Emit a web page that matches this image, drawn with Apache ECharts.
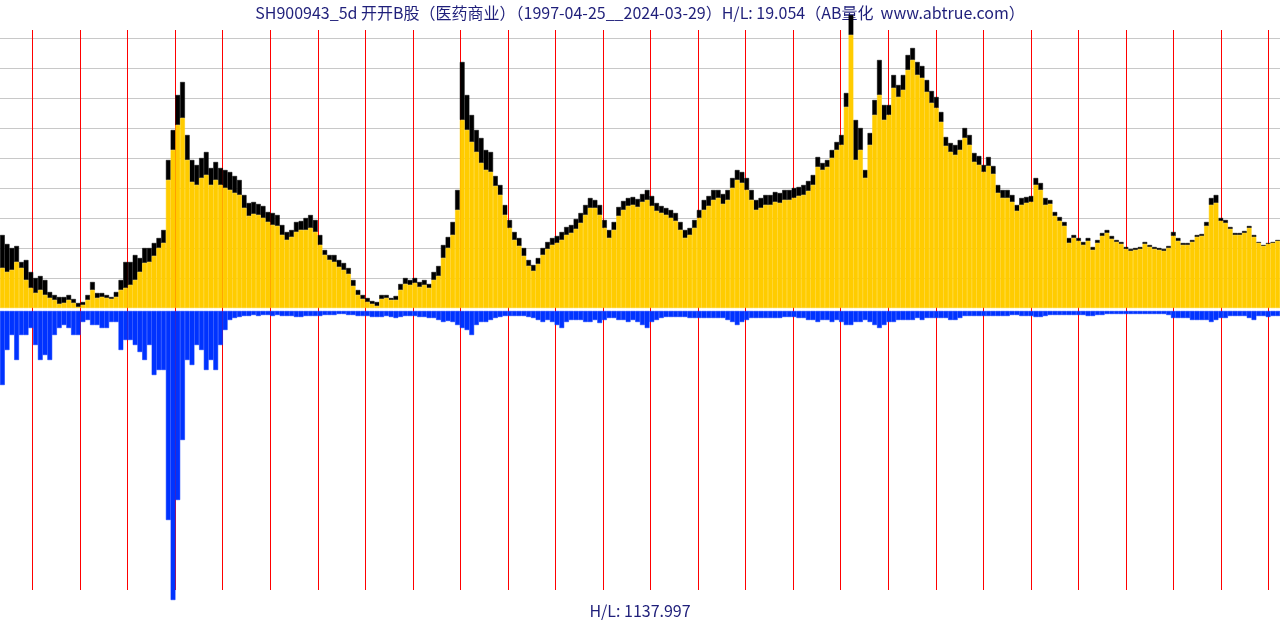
<!DOCTYPE html>
<html>
<head>
<meta charset="utf-8">
<script src="https://cdn.jsdelivr.net/npm/echarts@6/dist/echarts.min.js"></script>
<style>html,body{margin:0;padding:0;background:#fff;}#c{width:1280px;height:620px;}</style>
</head>
<body>
<div id="c"></div>
<script>
// decimal-year periods (every 0.1 year from 1997.3 to 2024.2)
var startYear = 1997.3, periodCount = 270;
var periods = [];
for (var k = 0; k < periodCount; k++) periods.push((startYear + k * 0.1).toFixed(1));

// year boundaries drawn as vertical lines
var yearMarks = [1998,1999,2000,2001,2002,2003,2004,2005,2006,2007,2008,2009,2010,2011,2012,2013,2014,2015,2016,2017,2018,2019,2020,2021,2022,2023,2024];

// period high
var high = [0.73,0.64,0.60,0.62,0.46,0.48,0.36,0.30,0.32,0.28,0.16,0.13,0.11,0.11,0.13,0.09,0.05,0.06,0.13,0.26,
0.15,0.15,0.13,0.11,0.16,0.28,0.46,0.46,0.53,0.50,0.60,0.60,0.65,0.70,0.78,1.48,1.78,2.13,2.26,1.73,
1.48,1.43,1.50,1.56,1.40,1.46,1.40,1.38,1.36,1.32,1.28,1.13,1.05,1.06,1.04,1.02,0.96,0.95,0.93,0.83,
0.76,0.78,0.86,0.87,0.90,0.93,0.88,0.73,0.58,0.53,0.53,0.48,0.45,0.40,0.28,0.18,0.13,0.10,0.07,0.06,
0.13,0.13,0.10,0.12,0.24,0.30,0.28,0.30,0.26,0.28,0.24,0.36,0.42,0.63,0.71,0.86,1.18,2.46,2.13,1.93,
1.78,1.70,1.58,1.56,1.32,1.23,1.03,0.88,0.76,0.70,0.60,0.48,0.43,0.50,0.60,0.66,0.70,0.72,0.76,0.81,
0.83,0.89,0.95,1.03,1.10,1.08,1.03,0.88,0.78,0.86,1.01,1.07,1.10,1.11,1.09,1.14,1.18,1.12,1.05,1.02,
1.00,0.98,0.95,0.86,0.78,0.80,0.88,0.98,1.08,1.12,1.18,1.18,1.14,1.18,1.30,1.38,1.36,1.30,1.18,1.08,
1.10,1.13,1.13,1.16,1.15,1.18,1.18,1.20,1.21,1.23,1.27,1.33,1.51,1.45,1.48,1.58,1.66,1.73,2.15,2.93,
1.88,1.80,1.38,1.75,2.08,2.48,2.03,2.03,2.33,2.23,2.33,2.53,2.60,2.46,2.42,2.28,2.17,2.11,1.96,1.71,
1.65,1.63,1.68,1.80,1.73,1.55,1.52,1.43,1.51,1.42,1.23,1.18,1.18,1.13,1.03,1.10,1.11,1.12,1.30,1.25,
1.10,1.08,0.96,0.91,0.86,0.70,0.73,0.70,0.66,0.70,0.61,0.68,0.75,0.78,0.72,0.68,0.66,0.61,0.59,0.60,
0.61,0.66,0.63,0.61,0.60,0.59,0.62,0.76,0.70,0.65,0.65,0.68,0.73,0.74,0.86,1.10,1.13,0.90,0.88,0.81,
0.75,0.75,0.77,0.82,0.73,0.66,0.63,0.65,0.66,0.68];

// period low
var low = [0.40,0.36,0.38,0.46,0.40,0.28,0.20,0.15,0.18,0.13,0.10,0.08,0.04,0.05,0.08,0.05,0.01,0.03,0.08,0.18,
0.10,0.11,0.10,0.09,0.11,0.18,0.20,0.23,0.28,0.36,0.45,0.46,0.52,0.60,0.65,1.28,1.58,1.83,1.90,1.48,
1.26,1.23,1.30,1.33,1.23,1.28,1.23,1.20,1.18,1.15,1.13,1.00,0.92,0.94,0.93,0.90,0.86,0.83,0.82,0.73,
0.68,0.71,0.76,0.78,0.78,0.80,0.76,0.63,0.53,0.48,0.46,0.41,0.38,0.34,0.22,0.13,0.09,0.06,0.04,0.02,
0.09,0.10,0.08,0.08,0.18,0.24,0.23,0.25,0.21,0.23,0.20,0.28,0.32,0.50,0.60,0.73,0.98,1.88,1.78,1.66,
1.56,1.45,1.38,1.36,1.22,1.13,0.93,0.80,0.68,0.62,0.52,0.42,0.37,0.44,0.53,0.59,0.63,0.65,0.68,0.73,
0.75,0.79,0.85,0.93,1.00,1.00,0.93,0.80,0.70,0.78,0.92,0.98,1.02,1.03,1.01,1.06,1.08,1.02,0.97,0.95,
0.93,0.90,0.87,0.78,0.70,0.73,0.80,0.90,0.98,1.02,1.08,1.10,1.04,1.08,1.20,1.28,1.25,1.18,1.08,0.98,
1.00,1.03,1.03,1.06,1.05,1.08,1.08,1.10,1.12,1.13,1.17,1.23,1.41,1.38,1.41,1.50,1.58,1.63,2.01,2.73,
1.48,1.58,1.30,1.63,1.93,2.13,1.88,1.93,2.20,2.11,2.18,2.38,2.48,2.33,2.30,2.16,2.05,2.00,1.86,1.62,
1.56,1.53,1.58,1.70,1.63,1.46,1.43,1.36,1.42,1.34,1.15,1.10,1.10,1.06,0.97,1.03,1.05,1.06,1.23,1.18,
1.03,1.04,0.92,0.87,0.82,0.65,0.70,0.67,0.63,0.67,0.58,0.65,0.72,0.75,0.69,0.66,0.64,0.59,0.57,0.58,
0.59,0.64,0.61,0.59,0.58,0.57,0.60,0.72,0.67,0.63,0.63,0.66,0.71,0.72,0.82,1.03,1.05,0.87,0.85,0.79,
0.73,0.73,0.75,0.80,0.71,0.65,0.62,0.64,0.65,0.67];

// period volume
var volume = [740,390,240,490,240,240,170,340,490,440,490,240,170,140,170,240,240,110,90,140,
140,170,170,110,110,390,290,290,340,410,490,340,640,590,590,2090,2890,1890,1290,490,
540,340,390,590,490,590,340,190,90,70,60,50,50,40,50,40,40,50,40,50,
50,50,60,60,50,50,50,50,40,40,40,30,30,40,40,50,50,50,60,60,
60,50,60,70,60,50,50,50,60,60,70,70,90,110,100,110,140,170,190,240,
140,110,110,90,70,60,50,50,50,50,50,60,70,90,110,90,110,140,170,110,
90,90,90,110,110,90,120,90,70,70,90,90,110,90,110,140,170,110,90,70,
60,60,60,60,60,70,70,70,70,70,70,70,70,90,110,140,110,90,70,70,
70,70,70,70,70,60,60,60,70,70,90,90,110,90,90,110,90,110,140,140,
110,110,90,110,140,170,140,110,110,90,90,90,90,70,90,70,70,70,70,70,
90,90,70,50,50,50,50,50,50,50,50,50,50,40,40,50,50,50,60,60,
50,40,40,40,40,40,40,40,40,50,50,40,40,30,30,30,30,30,30,30,
30,30,30,30,30,30,40,70,70,70,70,90,90,90,90,110,90,70,70,50,
50,50,50,70,90,50,50,60,50,50];

var titleText = 'SH900943_5d 开开B股（医药商业）（1997-04-25__2024-03-29）H/L: 19.054（AB量化  www.abtrue.com）';
var volText = 'H/L: 1137.997';

// range above the low, stacked on the low bar
var range = high.map(function (h, i) { return +(h - low[i]).toFixed(2); });

var chart = echarts.init(document.getElementById('c'), null, {renderer: 'canvas'});
var font = '"Noto Sans CJK SC", "Noto Sans", sans-serif';
chart.setOption({
  animation: false,
  backgroundColor: '#ffffff',
  title: [
    {text: titleText, left: 'center', top: 0, textStyle: {fontSize: 16, fontWeight: 'normal', color: '#1f1f7a', fontFamily: font}},
    {text: volText, left: 'center', top: 598, textStyle: {fontSize: 16, fontWeight: 'normal', color: '#1f1f7a', fontFamily: font}}
  ],
  grid: [
    {left: 0, right: 0, top: 8, height: 300},
    {left: 0, right: 0, top: 311, height: 302},
    {left: 0, right: 0, top: 30, height: 560}
  ],
  xAxis: [
    {type: 'category', gridIndex: 0, data: periods, show: false, boundaryGap: true},
    {type: 'category', gridIndex: 1, data: periods, show: false, boundaryGap: true},
    {type: 'value', gridIndex: 2, min: 1997.315, max: 2024.24, show: false}
  ],
  yAxis: [
    {type: 'value', gridIndex: 0, min: 0, max: 3, interval: 0.3,
     axisLine: {show: false}, axisTick: {show: false}, axisLabel: {show: false},
     splitLine: {show: true, showMinLine: false, showMaxLine: false, lineStyle: {color: '#c8c8c8', width: 1}}},
    {type: 'value', gridIndex: 1, min: 0, max: 3020, inverse: true, show: false, splitLine: {show: false}},
    {type: 'value', gridIndex: 2, min: 0, max: 1, show: false, splitLine: {show: false}}
  ],
  series: [
    {type: 'line', xAxisIndex: 2, yAxisIndex: 2, data: [], z: 0, silent: true,
     markLine: {silent: true, z: 0, symbol: ['none', 'none'], label: {show: false},
       lineStyle: {color: '#ff0000', width: 1, type: 'solid'},
       data: yearMarks.map(function (y) { return {xAxis: y}; })}},
    {type: 'bar', xAxisIndex: 0, yAxisIndex: 0, data: low, stack: 'price', barCategoryGap: '0%',
     itemStyle: {color: '#ffcc00', borderColor: '#ffcc00', borderWidth: 0.5}, zlevel: 1, z: 3, silent: true},
    {type: 'bar', xAxisIndex: 0, yAxisIndex: 0, data: range, stack: 'price', barCategoryGap: '0%',
     itemStyle: {color: '#000000', borderColor: '#000000', borderWidth: 0.5}, zlevel: 1, z: 2, silent: true},
    {type: 'bar', xAxisIndex: 1, yAxisIndex: 1, data: volume, barCategoryGap: '0%',
     itemStyle: {color: '#0033ff', borderColor: '#0033ff', borderWidth: 0.5}, zlevel: 1, z: 3, silent: true}
  ]
});
</script>
</body>
</html>
